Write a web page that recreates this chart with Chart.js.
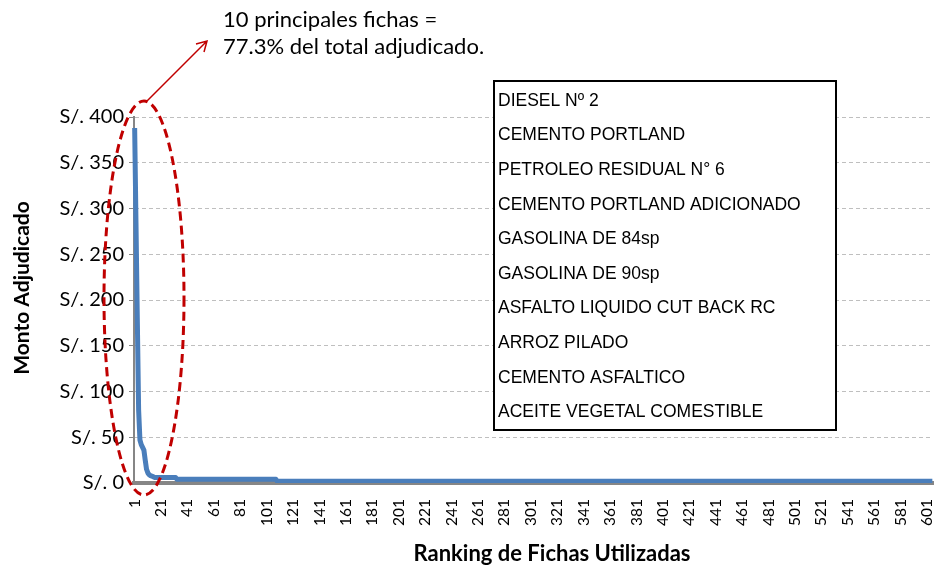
<!DOCTYPE html>
<html>
<head>
<meta charset="utf-8">
<script src="https://cdn.jsdelivr.net/npm/chart.js@4/dist/chart.umd.min.js"></script>
<style>
    html, body { margin: 0; padding: 0; background: #fff; }
    #wrap { width: 937px; height: 565px; position: relative; }
</style>
</head>
<body>
<div id="wrap"><canvas id="myChart" width="937" height="565"></canvas></div>
<script>
// montos de las primeras fichas del ranking
var montosTop = [388, 285, 180, 80, 47, 42, 39, 36, 25, 15, 11, 9, 8, 7.5, 7];
// resto del ranking: [cantidad de fichas, monto]
var tramos = [[17, 6], [76, 4], [497, 2]];
var etiquetasX = ['1', '21', '41', '61', '81', '101', '121', '141', '161', '181', '201', '221', '241', '261', '281', '301',
    '321', '341', '361', '381', '401', '421', '441', '461', '481', '501', '521', '541', '561', '581', '601'];
var ticksY = [0, 50, 100, 150, 200, 250, 300, 350, 400];
var principales = ['DIESEL Nº 2', 'CEMENTO PORTLAND', 'PETROLEO RESIDUAL N° 6', 'CEMENTO PORTLAND ADICIONADO',
    'GASOLINA DE 84sp', 'GASOLINA DE 90sp', 'ASFALTO LIQUIDO CUT BACK RC', 'ARROZ PILADO',
    'CEMENTO ASFALTICO', 'ACEITE VEGETAL COMESTIBLE'];
var nota = ['10 principales fichas =', '77.3% del total adjudicado.'];

var montos = montosTop.slice();
for (var t = 0; t < tramos.length; t++) {
    for (var k = 0; k < tramos[t][0]; k++) {
        montos.push(tramos[t][1]);
    }
}
var ranking = [];
for (var i = 1; i <= montos.length; i++) {
    ranking.push(String(i));
}

var anotaciones = {
    id: 'anotaciones',
    afterDraw: function (chart) {
        var ctx = chart.ctx;
        ctx.save();
        // elipse roja punteada
        ctx.strokeStyle = '#C00000';
        ctx.lineWidth = 3;
        ctx.setLineDash([9, 5]);
        ctx.beginPath();
        ctx.ellipse(144, 298, 40, 197, 0, 0, Math.PI * 2);
        ctx.stroke();
        ctx.setLineDash([]);
        // flecha
        ctx.lineWidth = 1.5;
        ctx.beginPath();
        ctx.moveTo(147, 101);
        ctx.lineTo(207, 41);
        ctx.moveTo(196, 44);
        ctx.lineTo(207, 41);
        ctx.lineTo(204, 52);
        ctx.stroke();
        // texto de la nota
        ctx.fillStyle = '#000';
        ctx.font = '22px Lato';
        ctx.textBaseline = 'middle';
        ctx.textAlign = 'left';
        ctx.fillText(nota[0], 223, 20);
        ctx.fillText(nota[1], 223, 47);
        // recuadro con las fichas
        ctx.fillStyle = '#fff';
        ctx.fillRect(494, 81, 342, 349);
        ctx.strokeStyle = '#000';
        ctx.lineWidth = 2;
        ctx.strokeRect(494, 81, 342, 349);
        ctx.fillStyle = '#000';
        ctx.font = '17.5px "Liberation Sans"';
        for (var j = 0; j < principales.length; j++) {
            ctx.fillText(principales[j], 498, 101 + j * 34.6);
        }
        // titulos de ejes
        ctx.font = 'bold 22px Lato';
        ctx.textAlign = 'center';
        ctx.fillText('Ranking de Fichas Utilizadas', 552, 554);
        ctx.font = 'bold 21px Lato';
        ctx.translate(22, 288);
        ctx.rotate(-Math.PI / 2);
        ctx.fillText('Monto Adjudicado', 0, 0);
        ctx.restore();
    }
};

var ctx = document.getElementById('myChart');
var chart = new Chart(ctx, {
    type: 'line',
    data: {
        labels: ranking,
        datasets: [{
            label: 'Monto',
            data: montos,
            borderColor: '#4A7EBB',
            borderWidth: 5,
            pointRadius: 0,
            tension: 0,
            borderJoinStyle: 'round',
            fill: false
        }]
    },
    options: {
        responsive: false,
        animation: false,
        layout: { padding: { top: 117, right: 4, left: 0, bottom: 0 } },
        plugins: { legend: { display: false }, tooltip: { enabled: false } },
        scales: {
            x: {
                offset: true,
                grid: { display: false },
                border: { display: true, color: '#868686', width: 4 },
                ticks: {
                    autoSkip: false,
                    minRotation: 90,
                    maxRotation: 90,
                    padding: 8,
                    color: '#000',
                    font: { family: 'Lato', size: 15.5 },
                    callback: function (val) {
                        var lab = this.getLabelForValue(val);
                        return etiquetasX.indexOf(lab) >= 0 ? lab : '';
                    }
                },
                afterFit: function (scale) {
                    scale.height = 82;
                    scale.paddingLeft = 0;
                    scale.paddingRight = 0;
                }
            },
            y: {
                min: 0,
                max: 400,
                afterBuildTicks: function (scale) {
                    scale.ticks = ticksY.map(function (v) { return { value: v }; });
                },
                grid: { color: '#BFBFBF', lineWidth: 1, tickLength: 5, tickColor: '#868686', tickBorderDash: [] },
                border: { display: true, color: '#868686', width: 2, dash: [4, 3] },
                ticks: {
                    padding: 5,
                    color: '#000',
                    font: { family: 'Lato', size: 20 },
                    callback: function (v) { return 'S/. ' + v; }
                },
                afterFit: function (scale) { scale.width = 134; }
            }
        }
    },
    plugins: [anotaciones]
});
</script>
</body>
</html>
